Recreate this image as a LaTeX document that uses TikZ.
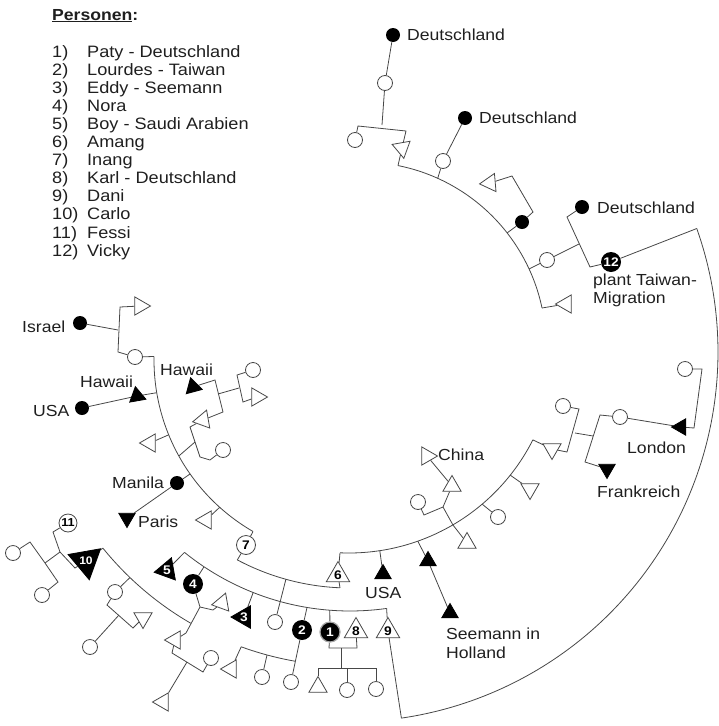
\documentclass[tikz,border=0pt]{standalone}
\usepackage{fontspec}
\setmainfont{Liberation Sans}[FakeStretch=1.1]
\usetikzlibrary{shapes.geometric,backgrounds}
\begin{document}
\begin{tikzpicture}[x=1pt,y=-1pt,
  lnk/.style={draw=black!72, line width=0.8pt},
  oc/.style={circle, draw=black!72, line width=0.8pt, fill=white, minimum size=15pt, inner sep=0pt},
  fc/.style={circle, fill=black, minimum size=14pt, inner sep=0pt},
  numf/.style={font=\fontsize{12.5}{12.5}\selectfont\bfseries},
  nfc/.style={circle, fill=black, text=white, minimum size=20pt, inner sep=0pt, numf},
  noc/.style={circle, draw=black!72, line width=0.8pt, fill=white, minimum size=19pt, inner sep=0pt, numf},
  tri/.style={regular polygon, regular polygon sides=3, inner sep=0pt, line width=0.8pt},
  ot/.style={tri, draw=black!72, fill=white, minimum size=21pt, shape border rotate=#1},
  ot/.default=0,
  ft/.style={tri, draw=black, fill=black, minimum size=19pt, shape border rotate=#1},
  ft/.default=0,
  nft/.style={tri, draw=black, fill=black, text=white, minimum size=26pt, numf, shape border rotate=#1},
  nft/.default=0,
  nott/.style={tri, draw=black!72, fill=white, minimum size=27pt, numf},
  lab/.style={font=\fontsize{16}{18}\selectfont, inner sep=0pt, anchor=base west, text=black!88},
  leg/.style={font=\fontsize{16.5}{18}\selectfont, inner sep=0pt, anchor=base west, text=black!88}
]
\useasboundingbox (0,0) rectangle (718,726);

% ---------- legend ----------
\node[lab, font=\fontsize{16}{18}\selectfont\bfseries] (pers) at (52,20) {\underline{Personen}:};
\foreach \n/\t [count=\i from 0] in {1/Paty - Deutschland, 2/Lourdes - Taiwan, 3/Eddy - Seemann, 4/Nora, 5/Boy - Saudi Arabien, 6/Amang, 7/Inang, 8/Karl - Deutschland, 9/Dani, 10/Carlo, 11/Fessi, 12/Vicky}{
  \node[leg] (lnum\n) at (52,{57+18.1*\i}) {\n)};
  \node[leg] (lname\n) at (87,{57+18.1*\i}) {\t};
}

% ---------- labels ----------
\node[lab] (lD1) at (407,40) {Deutschland};
\node[lab] (lD2) at (479,123) {Deutschland};
\node[lab] (lD3) at (597,213) {Deutschland};
\node[lab] (l12a) at (593,285) {plant Taiwan-};
\node[lab] (l12b) at (593,303) {Migration};
\node[lab] (lLon) at (627,453) {London};
\node[lab] (lFra) at (597,497) {Frankreich};
\node[lab] (lChi) at (438,460) {China};
\node[lab] (lUSA) at (365,598) {USA};
\node[lab] (lSee1) at (446,639) {Seemann in};
\node[lab] (lSee2) at (446,658) {Holland};
\node[lab] (lIsr) at (22,332) {Israel};
\node[lab] (lHaw1) at (80,387) {Hawaii};
\node[lab] (lUSA2) at (33,416) {USA};
\node[lab] (lHaw2) at (160,375) {Hawaii};
\node[lab] (lMan) at (112,488) {Manila};
\node[lab] (lPar) at (138,527) {Paris};

% ---------- symbols: top right ----------
\node[fc] (F1) at (393,35) {};
\node[oc] (C1) at (385,83) {};
\node[oc] (C2) at (355,140) {};
\node[ot=190] (T1) at (402,148) {};
\node[fc] (F2) at (465,118) {};
\node[oc] (C3) at (443,161) {};
\node[ot=95] (T2) at (490,183) {};
\node[fc] (F3) at (522,222) {};
\node[fc] (F4) at (582,207) {};
\node[oc] (C4) at (547,260) {};
\node[nfc] (N12) at (611,262) {12};
\node[ot=90] (T3) at (566,304) {};

% London / Frankreich
\node[oc] (C5) at (685,369) {};
\node[ft=90] (FT8) at (681,427) {};
\node[oc] (C6) at (620,417) {};
\node[ft=180] (FT7) at (607,469) {};
\node[oc] (C7) at (563,406) {};
\node[ot=180] (T19) at (552,449) {};

% middle arc
\node[ot=180] (T18) at (530,489) {};
\node[oc] (C9) at (498,517) {};
\node[ot=0] (T17) at (467,543) {};
\node[ot=0] (T16) at (452,486) {};
\node[oc] (C8) at (418,502) {};
\node[ot=270] (T15) at (427,456) {};
\node[ft=0] (FT5) at (428,561) {};
\node[ft=0] (FT6) at (450,613) {};
\node[ft=0] (FT4) at (383,574) {};
\node[nott] (N6) at (338,575) {6};

% left
\node[fc] (F5) at (80,323) {};
\node[ot=270] (T4) at (140,306) {};
\node[oc] (C10) at (135,357) {};
\node[fc] (F6) at (82,408) {};
\node[ft=250] (FT1) at (137,396) {};
\node[ft=135] (FT2) at (193,387) {};
\node[oc] (C11) at (253,370) {};
\node[ot=270] (T5) at (257,397) {};
\node[ot=100] (T6) at (203,420) {};
\node[oc] (C12) at (223,450) {};
\node[ot=90] (T7) at (150,443) {};
\node[fc] (F7) at (177,483) {};
\node[ft=180] (FT3) at (127,518) {};
\node[ot=90] (T8) at (206,520) {};
\node[noc] (N7) at (246,545) {7};

% lower
\node[nft=100] (N5) at (167,570) {5};
\node[nfc] (N4) at (193,584) {4};
\node[ot=-20] (T9) at (222,603) {};
\node[nft=90] (N3) at (244,617) {3};
\node[oc] (C13) at (275,622) {};
\node[nfc] (N2) at (302,630) {2};
\node[nfc, draw=black!35, line width=1.2pt] (N1) at (330,632) {1};
\node[nott] (N8) at (356,631) {8};
\node[nott] (N9) at (388,631) {9};
\node[ot=90] (T10) at (175,640) {};
\node[oc] (C18) at (211,658) {};
\node[ot=90] (T11) at (163,702) {};
\node[ot=90] (T13) at (231,669) {};
\node[oc] (C14) at (262,677) {};
\node[oc] (C15) at (291,682) {};
\node[ot=0] (T14) at (318,687) {};
\node[oc] (C16) at (347,690) {};
\node[oc] (C17) at (376,689) {};

% far left
\node[noc, minimum size=18pt, font=\fontsize{11.5}{11.5}\selectfont\bfseries] (N11) at (68,523) {11};
\node[nft=190, minimum size=25pt, font=\fontsize{11}{11}\selectfont\bfseries] (N10) at (86,561) {10};
\node[oc] (C19) at (115,592) {};
\node[ot=300] (T12) at (143,618) {};
\node[oc] (C20) at (90,647) {};
\node[oc] (C21) at (13,553) {};
\node[oc] (C22) at (42,595) {};

% ---------- coordinates ----------
\coordinate (ta0) at (398,165.6);
\coordinate (ta1) at (437.7,178.3);
\coordinate (ta2) at (507,233);
\coordinate (ta3) at (529,269);
\coordinate (ta4) at (542,308);
\coordinate (ba0) at (696.8,228.5);
\coordinate (ba1) at (401.4,718.1);
\coordinate (ma0) at (340,552.8);
\coordinate (maU) at (379.8,550.7);
\coordinate (maS) at (417.8,541.2);
\coordinate (maC) at (452.9,524.9);
\coordinate (maO) at (482,504);
\coordinate (maT) at (510,475);
\coordinate (ma1) at (532.9,439.9);
\coordinate (ha0) at (154,356.5);
\coordinate (haH) at (156.7,392.7);
\coordinate (haT7) at (168.7,434.8);
\coordinate (haB) at (178.8,456);
\coordinate (haM) at (190,474);
\coordinate (haT8) at (219.7,507.3);
\coordinate (ha1) at (253,531.5);
\coordinate (sa0) at (237.3,560);
\coordinate (saC) at (285.9,579.3);
\coordinate (sa1) at (340,587.8);
\coordinate (fa0) at (184.5,552.4);
\coordinate (fa4) at (204,566.8);
\coordinate (fa3) at (253.2,592.5);
\coordinate (fa2) at (307,607.5);
\coordinate (fa1) at (329.8,610.2);
\coordinate (faE) at (386.6,608.4);
\coordinate (ka0) at (102.9,548.1);
\coordinate (kaC) at (130,577.5);
\coordinate (ca0) at (241.2,646.8);
\coordinate (caM) at (267,655);
\coordinate (b1) at (382,125);
\coordinate (b1l) at (358,126);
\coordinate (b1r) at (406,131);
\coordinate (d2a) at (533,212);
\coordinate (d2b) at (512,176);
\coordinate (d3a) at (567,217);
\coordinate (d3b) at (590,267);
\coordinate (d3m) at (579,244);
\coordinate (lo1) at (702,369);
\coordinate (lo2) at (694,428);
\coordinate (fr1) at (600,415);
\coordinate (fr2) at (585,462);
\coordinate (fr3) at (593,436);
\coordinate (v1) at (579,409);
\coordinate (v2) at (575,433);
\coordinate (v3) at (567,452);
\coordinate (ch1) at (424,515);
\coordinate (ch2) at (443,507);
\coordinate (is1) at (120,307);
\coordinate (is2) at (118,330);
\coordinate (is3) at (118,352);
\coordinate (hw1) at (215,380);
\coordinate (hw2) at (223,412);
\coordinate (hw3) at (218,394);
\coordinate (hw4) at (239,388);
\coordinate (hw5) at (237,375);
\coordinate (hw6) at (243,402);
\coordinate (hw7) at (190,427);
\coordinate (hw8) at (200,457);
\coordinate (hw9) at (195,442);
\coordinate (hw10) at (210,460);
\coordinate (n4a) at (200,607);
\coordinate (n4b) at (213,610);
\coordinate (n4c) at (186,633);
\coordinate (t10a) at (172,653);
\coordinate (t10b) at (203,672);
\coordinate (t10m) at (187,662);
\coordinate (c19a) at (107,605);
\coordinate (c19b) at (133,628);
\coordinate (c19m) at (119,615);
\coordinate (p1) at (30,542);
\coordinate (p2) at (45,563);
\coordinate (p3) at (58,582);
\coordinate (s1) at (53,532);
\coordinate (s2) at (60,552);
\coordinate (s3) at (75,568);
\coordinate (n1a) at (329,648);
\coordinate (n1b) at (357,648);
\coordinate (n1m) at (341,648);
\coordinate (n1d) at (341,668);
\coordinate (bar1) at (318,668);
\coordinate (bar2) at (347,668);
\coordinate (bar3) at (376,668);

\begin{pgfonlayer}{background}
\draw[lnk] plot[domain=-78.7:-11.9,samples=60] ({362+184*cos(\x)},{346+184*sin(\x)});
\draw[lnk] plot[domain=-19.5:81.7,samples=100] ({348+370*cos(\x)},{352+370*sin(\x)});
\draw[lnk] plot[domain=26.8:92.5,samples=60] ({349+206*cos(\x)},{347+206*sin(\x)});
\draw[lnk] plot[domain=120:181,samples=60] ({352+198*cos(\x)},{360+198*sin(\x)});
\draw[lnk] plot[domain=92.4:118,samples=30] ({350+240*cos(\x)},{348+240*sin(\x)});
\draw[lnk] plot[domain=82:129,samples=50] ({350+263*cos(\x)},{348+263*sin(\x)});
\draw[lnk] plot[domain=120:141,samples=30] ({350+318*cos(\x)},{348+318*sin(\x)});
\draw[lnk] plot[domain=99.9:110,samples=20] ({350+318*cos(\x)},{348+318*sin(\x)});
\draw[lnk] (F1) -- (C1) -- (b1);
\draw[lnk] (C2) -- (b1l) -- (b1r) -- (T1) -- (ta0);
\draw[lnk] (F2) -- (C3) -- (ta1);
\draw[lnk] (ta2) -- (F3) -- (d2a) -- (d2b) -- (T2);
\draw[lnk] (ta3) -- (C4) -- (d3m);
\draw[lnk] (ta4) -- (T3);
\draw[lnk] (F4) -- (d3a) -- (d3b) -- (N12) -- (ba0);
\draw[lnk] (C5) -- (lo1) -- (lo2) -- (FT8) -- (C6) -- (fr1) -- (fr2) -- (FT7);
\draw[lnk] (fr3) -- (v2);
\draw[lnk] (C7) -- (v1) -- (v3) -- (T19) -- (ma1);
\draw[lnk] (ma0) -- (N6) -- (sa1);
\draw[lnk] (maU) -- (FT4);
\draw[lnk] (maS) -- (FT5) -- (FT6);
\draw[lnk] (C8) -- (ch1) -- (ch2) -- (T16) -- (T15);
\draw[lnk] (ch2) -- (maC) -- (T17);
\draw[lnk] (maO) -- (C9);
\draw[lnk] (maT) -- (T18);
\draw[lnk] (T4) -- (is1) -- (is3) -- (C10) -- (ha0);
\draw[lnk] (F5) -- (is2);
\draw[lnk] (F6) -- (FT1) -- (haH);
\draw[lnk] (FT2) -- (hw1) -- (hw2) -- (T6) -- (hw7) -- (hw8) -- (hw10) -- (C12);
\draw[lnk] (hw9) -- (haB);
\draw[lnk] (hw3) -- (hw4);
\draw[lnk] (C11) -- (hw5) -- (hw6) -- (T5);
\draw[lnk] (T7) -- (haT7);
\draw[lnk] (FT3) -- (F7) -- (haM);
\draw[lnk] (T8) -- (haT8);
\draw[lnk] (ha1) -- (N7) -- (sa0);
\draw[lnk] (saC) -- (C13);
\draw[lnk] (N5) -- (fa0);
\draw[lnk] (fa4) -- (N4) -- (n4a) -- (n4b) -- (T9);
\draw[lnk] (n4a) -- (n4c) -- (T10) -- (t10a) -- (t10b) -- (C18);
\draw[lnk] (t10m) -- (T11);
\draw[lnk] (fa3) -- (N3);
\draw[lnk] (fa2) -- (N2) -- (C15);
\draw[lnk] (fa1) -- (N1) -- (n1a) -- (n1b) -- (N8);
\draw[lnk] (n1m) -- (n1d);
\draw[lnk] (bar1) -- (bar3);
\draw[lnk] (bar1) -- (T14);
\draw[lnk] (bar2) -- (C16);
\draw[lnk] (bar3) -- (C17);
\draw[lnk] (faE) -- (N9) -- (ba1);
\draw[lnk] (ca0) -- (T13);
\draw[lnk] (caM) -- (C14);
\draw[lnk] (kaC) -- (C19) -- (c19a) -- (c19b) -- (T12);
\draw[lnk] (c19m) -- (C20);
\draw[lnk] (C21) -- (p1) -- (p2) -- (p3) -- (C22);
\draw[lnk] (p2) -- (s2);
\draw[lnk] (N11) -- (s1) -- (s2) -- (s3) -- (N10) -- (ka0);
\end{pgfonlayer}
\end{tikzpicture}
\end{document}
